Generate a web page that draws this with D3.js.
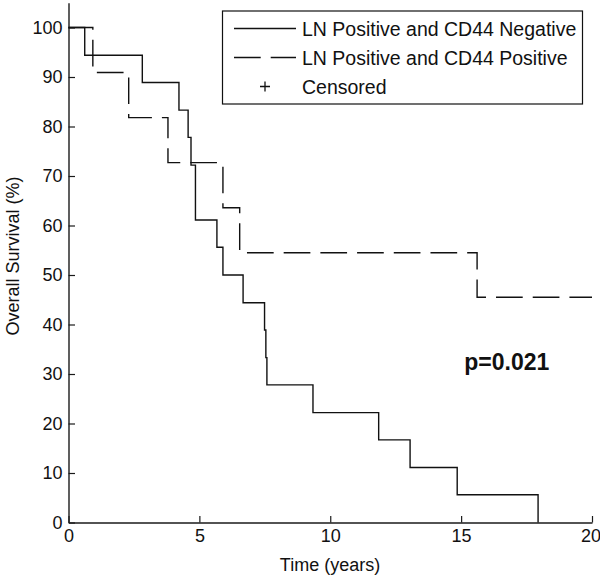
<!DOCTYPE html>
<html>
<head>
<meta charset="utf-8">
<script src="https://cdn.jsdelivr.net/npm/d3@7"></script>
<style>
  html, body { margin: 0; padding: 0; background: #fff; }
  svg { display: block; }
  text { font-family: "Liberation Sans", Arial, sans-serif; fill: #111; }
</style>
</head>
<body>
<svg id="chart" width="600" height="577"></svg>
<script>
// ---- Data ----
const seriesNames = ["LN Positive and CD44 Negative", "LN Positive and CD44 Positive"];
const censoredLabel = "Censored";
// CD44 negative (solid): event times (years) and survival (%)
const negTimes = [0, 0.62, 2.82, 4.22, 4.57, 4.68, 4.85, 5.67, 5.90, 6.67, 7.49, 7.54, 7.58, 9.34, 11.85, 13.05, 14.85, 17.94];
const negSurv  = [100, 94.4, 88.9, 83.3, 77.8, 72.2, 61.1, 55.6, 50.0, 44.4, 38.9, 33.3, 27.8, 22.2, 16.7, 11.1, 5.6, 0];
const negEnd = 17.94;
// CD44 positive (dashed)
const posTimes = [0, 0.93, 2.30, 3.80, 5.90, 6.54, 15.61];
const posSurv  = [100, 90.9, 81.8, 72.7, 63.6, 54.5, 45.5];
const posEnd = 20;
const xTicks = [0, 5, 10, 15, 20];
const yTicks = [0, 10, 20, 30, 40, 50, 60, 70, 80, 90, 100];
const pText = "p=0.021";
const xLabel = "Time (years)";
const yLabel = "Overall Survival (%)";

// ---- Layout ----
const svg = d3.select("#chart");
const x = d3.scaleLinear().domain([0, 20]).range([68.5, 592]);
const y = d3.scaleLinear().domain([0, 105]).range([522.5, 2.75]);

const axisColor = "#1a1a1a";

// axes
const gx = svg.append("g").attr("transform", `translate(0,${y(0)})`)
  .call(d3.axisBottom(x).tickValues(xTicks).tickSize(-6.5).tickPadding(7).tickSizeOuter(0));
const gy = svg.append("g").attr("transform", `translate(${x(0)},0)`)
  .call(d3.axisLeft(y).tickValues(yTicks).tickSize(-6.5).tickPadding(6).tickSizeOuter(0));
[gx, gy].forEach(g => {
  g.select(".domain").attr("stroke", axisColor).attr("stroke-width", 1.4);
  g.selectAll(".tick line").attr("stroke", axisColor).attr("stroke-width", 1.2);
  g.selectAll(".tick text").attr("font-size", 18).attr("fill", "#111")
    .attr("font-family", '"Liberation Sans", Arial, sans-serif');
});
gx.selectAll(".tick text").attr("dy", "0.71em");
// keep the last x tick label inside the picture, as in the reference
gx.selectAll(".tick").filter(d => d === xTicks[xTicks.length - 1])
  .select("text").attr("text-anchor", "end").attr("dx", 8.5);

// step curves
const line = d3.line().x(d => x(d[0])).y(d => y(d[1])).curve(d3.curveStepAfter);
const negPts = negTimes.map((t, i) => [t, negSurv[i]]);
negPts.push([negEnd, negSurv[negSurv.length - 1]]);
const posPts = posTimes.map((t, i) => [t, posSurv[i]]);
posPts.push([posEnd, posSurv[posSurv.length - 1]]);

svg.append("path").attr("d", line(posPts)).attr("fill", "none")
  .attr("stroke", "#111").attr("stroke-width", 1.4).attr("stroke-dasharray", "26.7,10");
svg.append("path").attr("d", line(negPts)).attr("fill", "none")
  .attr("stroke", "#111").attr("stroke-width", 1.4);

// p-value
svg.append("text").attr("x", x(15.12)).attr("y", y(30.8))
  .attr("font-size", 23).attr("font-weight", "bold").text(pText);

// axis labels
svg.append("text").attr("x", 330).attr("y", 571).attr("text-anchor", "middle")
  .attr("font-size", 18).text(xLabel);
svg.append("text").attr("transform", "translate(19,256) rotate(-90)")
  .attr("text-anchor", "middle").attr("font-size", 18).text(yLabel);

// legend
const lg = svg.append("g");
lg.append("rect").attr("x", 222.5).attr("y", 11).attr("width", 360).attr("height", 93)
  .attr("fill", "#fff").attr("stroke", "#111").attr("stroke-width", 1.2);
const rows = [28.5, 57.5, 86.5];
lg.append("line").attr("x1", 234).attr("x2", 296).attr("y1", rows[0]).attr("y2", rows[0])
  .attr("stroke", "#111").attr("stroke-width", 1.4);
lg.append("line").attr("x1", 234).attr("x2", 296).attr("y1", rows[1]).attr("y2", rows[1])
  .attr("stroke", "#111").attr("stroke-width", 1.4).attr("stroke-dasharray", "26.7,10");
lg.append("path").attr("d", `M${265 - 5},${rows[2]}H${265 + 5}M265,${rows[2] - 5}V${rows[2] + 5}`)
  .attr("stroke", "#111").attr("stroke-width", 1.3);
const labels = [seriesNames[0], seriesNames[1], censoredLabel];
labels.forEach((t, i) => {
  lg.append("text").attr("x", 302).attr("y", rows[i] + 7).attr("font-size", 19.5).text(t);
});
</script>
</body>
</html>
